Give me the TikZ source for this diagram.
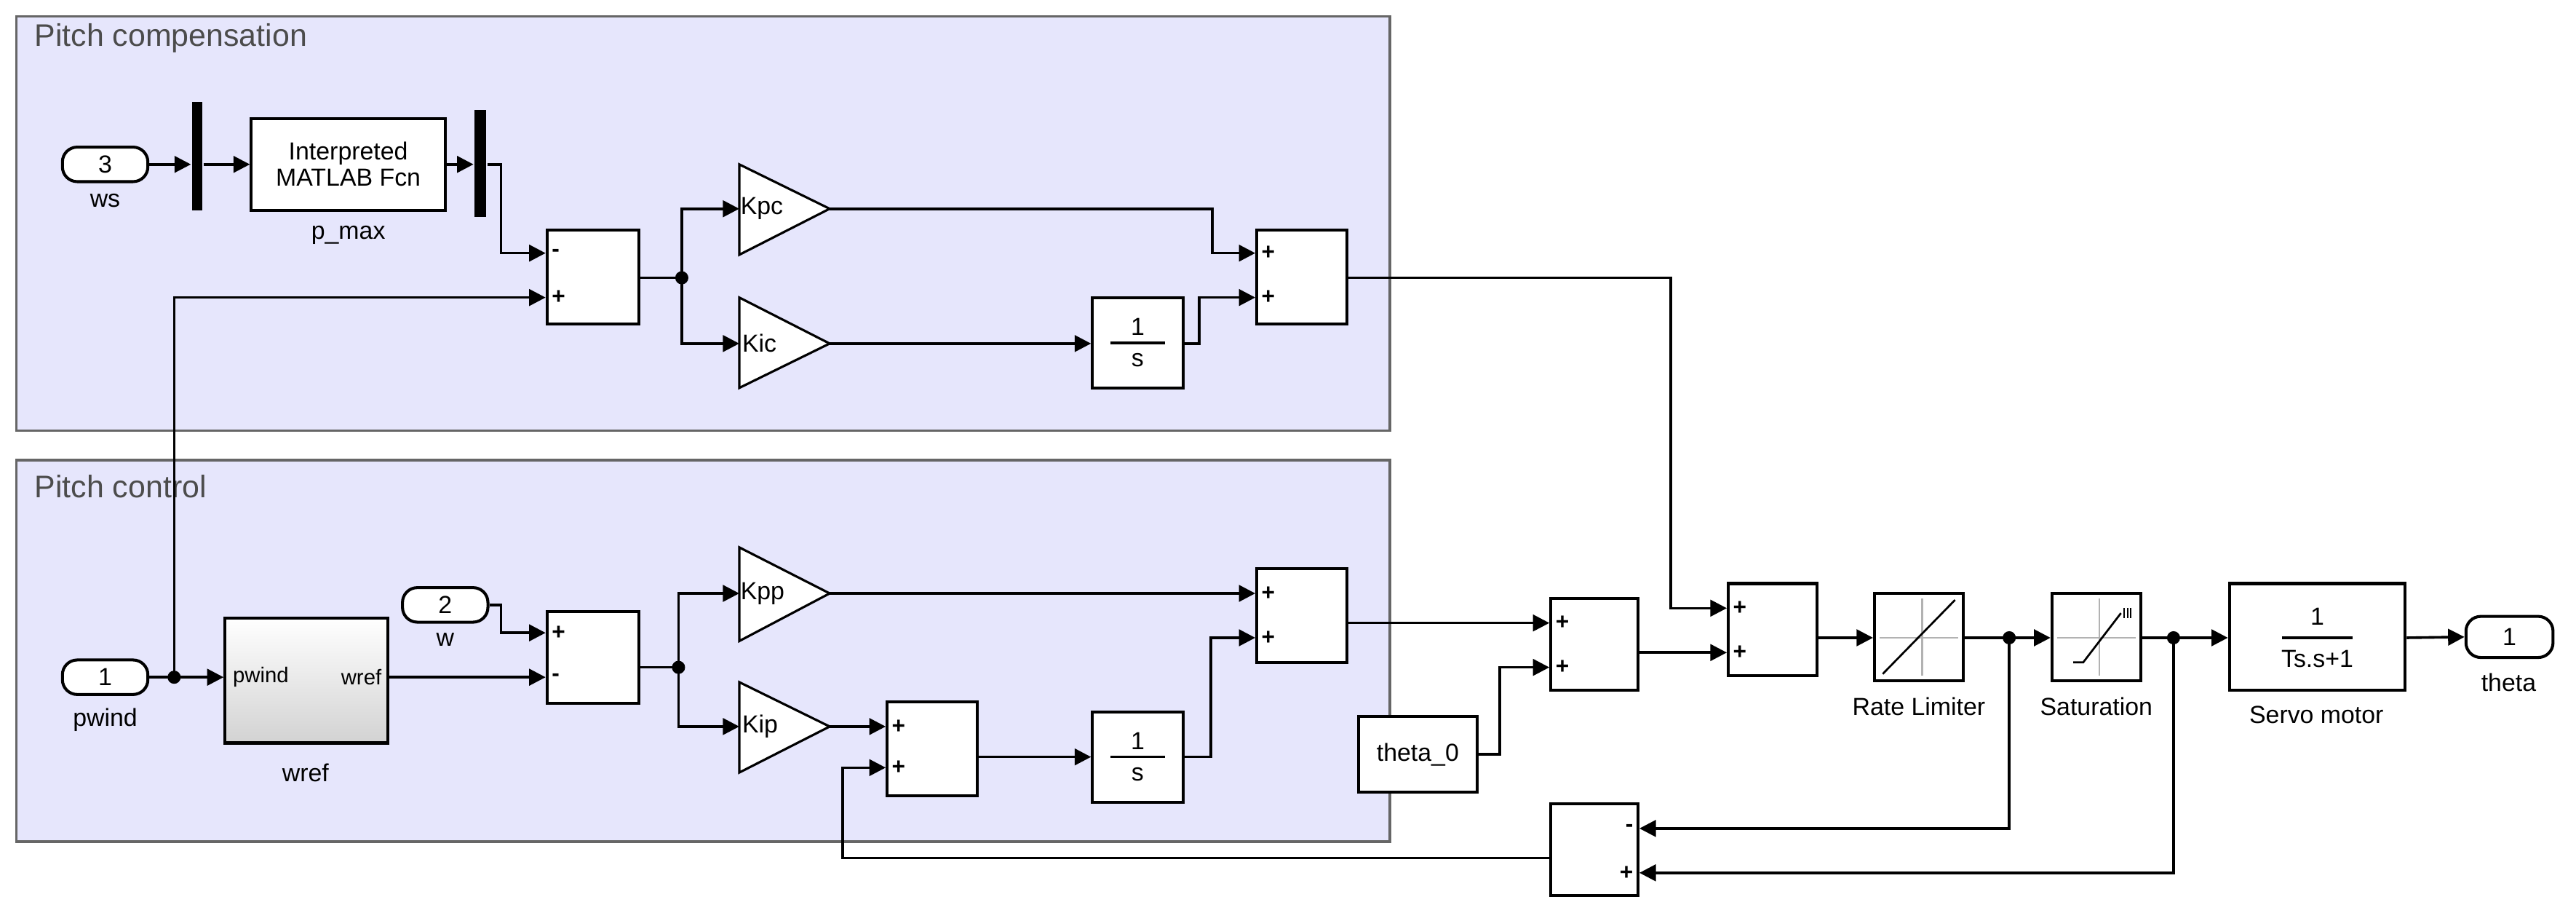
\documentclass[tikz,border=0pt]{standalone}
\usepackage{fontspec}
\setmainfont{Liberation Sans}
\usetikzlibrary{arrows.meta}
\begin{document}
\begin{tikzpicture}[x=1pt,y=-1pt,
  every path/.style={line width=1.6pt},
  w/.style={-{Triangle[length=10pt,width=10pt]}},
  blk/.style={draw,fill=white,line width=1.8pt,inner sep=0,font=\fontsize{15}{17}\selectfont},
  port/.style={draw,fill=white,rounded corners=9pt,line width=1.8pt,minimum width=52,minimum height=21,inner sep=0,font=\fontsize{15}{17}\selectfont},
  lab/.style={font=\fontsize{15}{17}\selectfont,inner sep=0},
  sg/.style={font=\fontsize{14}{14}\selectfont\bfseries,inner sep=0},
  grp/.style={draw=gray!80!black,fill={rgb,255:red,230;green,230;blue,252},line width=1.5pt},
  dot/.style={circle,fill,inner sep=0,minimum size=8}]
\useasboundingbox (0,0) rectangle (1568,560);
% groups
\draw[grp] (10,10) rectangle (846,262);
\node[anchor=west,text=black!70,font=\fontsize{19}{21}\selectfont] (t1) at (17,23) {Pitch compensation};
\draw[grp] (10,280) rectangle (846,512);
\node[anchor=west,text=black!70,font=\fontsize{19}{21}\selectfont] (t2) at (17,296) {Pitch control};
% pitch compensation
\node[port] (in3) at (64,100) {3};
\node[lab] at (64,122) {ws};
\node[fill,minimum width=6,minimum height=66,inner sep=0] (mx1) at (120,95) {};
\node[blk,minimum width=118,minimum height=56,align=center,font=\fontsize{15}{16}\selectfont] (fcn) at (212,100) {Interpreted\\MATLAB Fcn};
\node[lab] at (212,143) {p\_max};
\node[fill,minimum width=7,minimum height=65,inner sep=0] (mx2) at (292.5,99.5) {};
\node[blk,minimum width=56,minimum height=57] (s1) at (361,168.5) {};
\node[blk,minimum width=55,minimum height=57] (s2) at (792.5,168.5) {};
\node[blk,minimum width=55,minimum height=55] (i1) at (692.5,208.5) {};
\draw (676,208.5) -- (709,208.5);
\node[lab] at (692.5,199) {1};
\node[lab] at (692.5,219) {s};
% gains comp
\draw[fill=white,line width=1.4pt] (450,100) -- (505,127) -- (450,155) -- cycle;
\node[lab,anchor=west] (kpc) at (450,127) {Kpc};
\draw[fill=white,line width=1.4pt] (450,181) -- (505,209) -- (450,236) -- cycle;
\node[lab,anchor=west] (kic) at (451,209) {Kic};
% pitch control
\node[port] (in1) at (64,412) {1};
\node[lab] at (64,438) {pwind};
\node[blk,top color=white,bottom color=gray!35,minimum width=99,minimum height=76] (wref) at (186.5,414) {};
\node[lab,anchor=west,font=\fontsize{13}{15}\selectfont] at (141,412) {pwind};
\node[lab,anchor=east,font=\fontsize{13}{15}\selectfont] at (233,412) {wref};
\node[lab] at (186,470) {wref};
\node[port] (in2) at (271,368) {2};
\node[lab] at (271,389) {w};
\node[blk,minimum width=56,minimum height=56] (s3) at (361,400) {};
\draw[fill=white,line width=1.4pt] (450,333) -- (505,361) -- (450,390) -- cycle;
\node[lab,anchor=west] (kpp) at (450,361) {Kpp};
\draw[fill=white,line width=1.4pt] (450,415) -- (505,442) -- (450,470) -- cycle;
\node[lab,anchor=west] (kip) at (451,442) {Kip};
\node[blk,minimum width=55,minimum height=57] (s4) at (792.5,374.5) {};
\node[blk,minimum width=55,minimum height=57] (s5) at (567.5,455.5) {};
\node[blk,minimum width=55,minimum height=55] (i2) at (692.5,460.5) {};
\draw (676,460.5) -- (709,460.5);
\node[lab] at (692.5,451) {1};
\node[lab] at (692.5,471) {s};
% right part
\node[blk,minimum width=72,minimum height=46] (th0) at (863,459) {theta\_0};
\node[blk,minimum width=53,minimum height=56] (s6) at (970.5,392) {};
\node[blk,minimum width=54,minimum height=56] (s7) at (1079,383) {};
\node[blk,minimum width=54,minimum height=53] (rl) at (1168,387.5) {};
\draw[gray!60,line width=1pt] (1144,388) -- (1192,388) (1170,364) -- (1170,411);
\draw[line width=1.2pt] (1146,410) -- (1190,365);
\node[lab] at (1168,430) {Rate Limiter};
\node[blk,minimum width=54,minimum height=53] (sat) at (1276,387.5) {};
\draw[gray!60,line width=1pt] (1252,388) -- (1300,388) (1278,364) -- (1278,411);
\draw[line width=1.2pt] (1262,403) -- (1268,403) -- (1291,373);
\draw[line width=0.8pt] (1293,370) -- (1293,376) (1295,370) -- (1295,376) (1297,370) -- (1297,376);
\node[lab] at (1276,430) {Saturation};
\node[blk,minimum width=107,minimum height=65] (sv) at (1410.5,387.5) {};
\draw (1389,388) -- (1432,388);
\node[lab] at (1410.5,375) {1};
\node[lab] at (1410.5,401) {Ts.s+1};
\node[lab] at (1410,435) {Servo motor};
\node[port,minimum width=53,minimum height=25] (out1) at (1527.5,387.5) {1};
\node[lab] at (1527,415) {theta};
\node[blk,minimum width=53,minimum height=56] (s8) at (970.5,517) {};
% signs
\foreach \n/\yy/\s in {s1/154/-,s1/181/+,s2/154/+,s2/181/+,s3/385/+,s3/412/-,s4/361/+,s4/388/+,s5/442/+,s5/467/+,s6/379/+,s6/406/+,s7/370/+,s7/397/+}
  \node[sg,anchor=west] at ([xshift=3pt]\n.west |- 0,\yy) {\s};
\node[sg,anchor=east] at ([xshift=-3pt]s8.east |- 0,504) {-};
\node[sg,anchor=east] at ([xshift=-3pt]s8.east |- 0,531) {+};
% junctions
\coordinate (j1) at (415,169);
\coordinate (j2) at (413,406);
\coordinate (j3) at (106,412);
\coordinate (j4) at (1223,388);
\coordinate (j5) at (1323,388);
\foreach \j in {j1,j2,j3,j4,j5} \node[dot] at (\j) {};
% connectors comp
\draw[w] (in3.east) -- (mx1.west |- in3.east);
\draw[w] (mx1.east |- fcn.west) -- (fcn.west);
\draw[w] (fcn.east) -- (mx2.west |- fcn.east);
\draw[w] (mx2.east |- 0,100) -- (305,100) -- (305,154) -- (s1.west |- 0,154);
\draw (s1.east |- j1) -- (j1);
\draw[w] (j1) -- (415,127) -- (450,127);
\draw[w] (j1) -- (415,209) -- (450,209);
\draw[w] (505,127) -- (738,127) -- (738,154) -- (s2.west |- 0,154);
\draw[w] (505,209) -- (i1.west |- 0,209);
\draw[w] (i1.east |- 0,209) -- (730,209) -- (730,181) -- (s2.west |- 0,181);
\draw[w] (s2.east |- 0,169) -- (1017,169) -- (1017,370) -- (s7.west |- 0,370);
% connectors control
\draw (in1.east) -- (j3);
\draw[w] (j3) -- (wref.west |- j3);
\draw[w] (j3) -- (106,181) -- (s1.west |- 0,181);
\draw[w] (in2.east) -- (305,368) -- (305,385) -- (s3.west |- 0,385);
\draw[w] (wref.east |- 0,412) -- (s3.west |- 0,412);
\draw (s3.east |- j2) -- (j2);
\draw[w] (j2) -- (413,361) -- (450,361);
\draw[w] (j2) -- (413,442) -- (450,442);
\draw[w] (505,361) -- (s4.west |- 0,361);
\draw[w] (505,442) -- (s5.west |- 0,442);
\draw[w] (s5.east |- 0,460.5) -- (i2.west);
\draw[w] (i2.east) -- (737,460.5) -- (737,388) -- (s4.west |- 0,388);
\draw[w] (s4.east |- 0,379) -- (s6.west |- 0,379);
\draw[w] (th0.east) -- (913,459) -- (913,406) -- (s6.west |- 0,406);
\draw[w] (s6.east |- 0,397) -- (s7.west |- 0,397);
\draw[w] (s7.east |- 0,388) -- (rl.west |- 0,388);
\draw (rl.east |- 0,388) -- (j4);
\draw[w] (j4) -- (sat.west |- j4);
\draw (sat.east |- 0,388) -- (j5);
\draw[w] (j5) -- (sv.west |- j5);
\draw[w] (sv.east |- 0,388) -- (out1.west);
\draw[w] (j4) -- (1223,504) -- (s8.east |- 0,504);
\draw[w] (j5) -- (1323,531) -- (s8.east |- 0,531);
\draw[w] (s8.west |- 0,522) -- (513,522) -- (513,467) -- (s5.west |- 0,467);
\end{tikzpicture}
\end{document}
